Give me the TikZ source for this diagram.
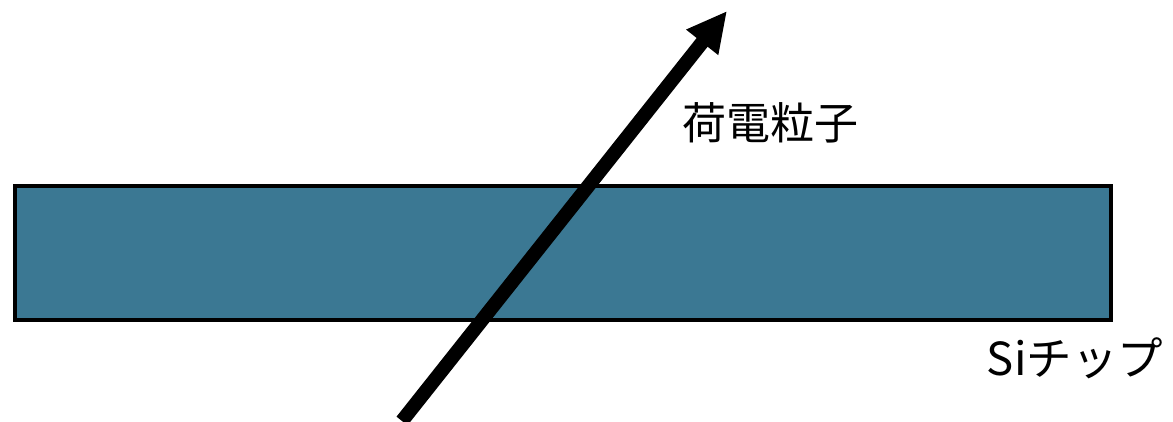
\documentclass[tikz,border=0pt]{standalone}
\usepackage{fontspec}
\setmainfont{Noto Sans CJK JP}
\usetikzlibrary{arrows.meta}
\definecolor{chip}{RGB}{59,120,147}
\tikzset{
  chipbox/.style={draw=black, line width=4pt, fill=chip},
  particle/.style={line width=14pt, -{Triangle[length=40pt,width=38pt]}},
  lbl/.style={font=\fontsize{44}{50}\selectfont, inner sep=0pt}
}
\begin{document}
\begin{tikzpicture}[x=1pt,y=-1pt]
\useasboundingbox (0,0) rectangle (1173,422);
\draw[chipbox] (15,186) rectangle (1111,320);
\node (chip) at (563,253) {};
\coordinate (tail) at (402,421);
\coordinate (head) at (727,11);
\draw[particle] (tail) -- (head);
\node[lbl] (plabel) at (770,123) {荷電粒子};
\node[lbl, font=\fontsize{45.5}{50}\selectfont] (slabel) at (1075,358) {Siチップ};
\end{tikzpicture}
\end{document}
